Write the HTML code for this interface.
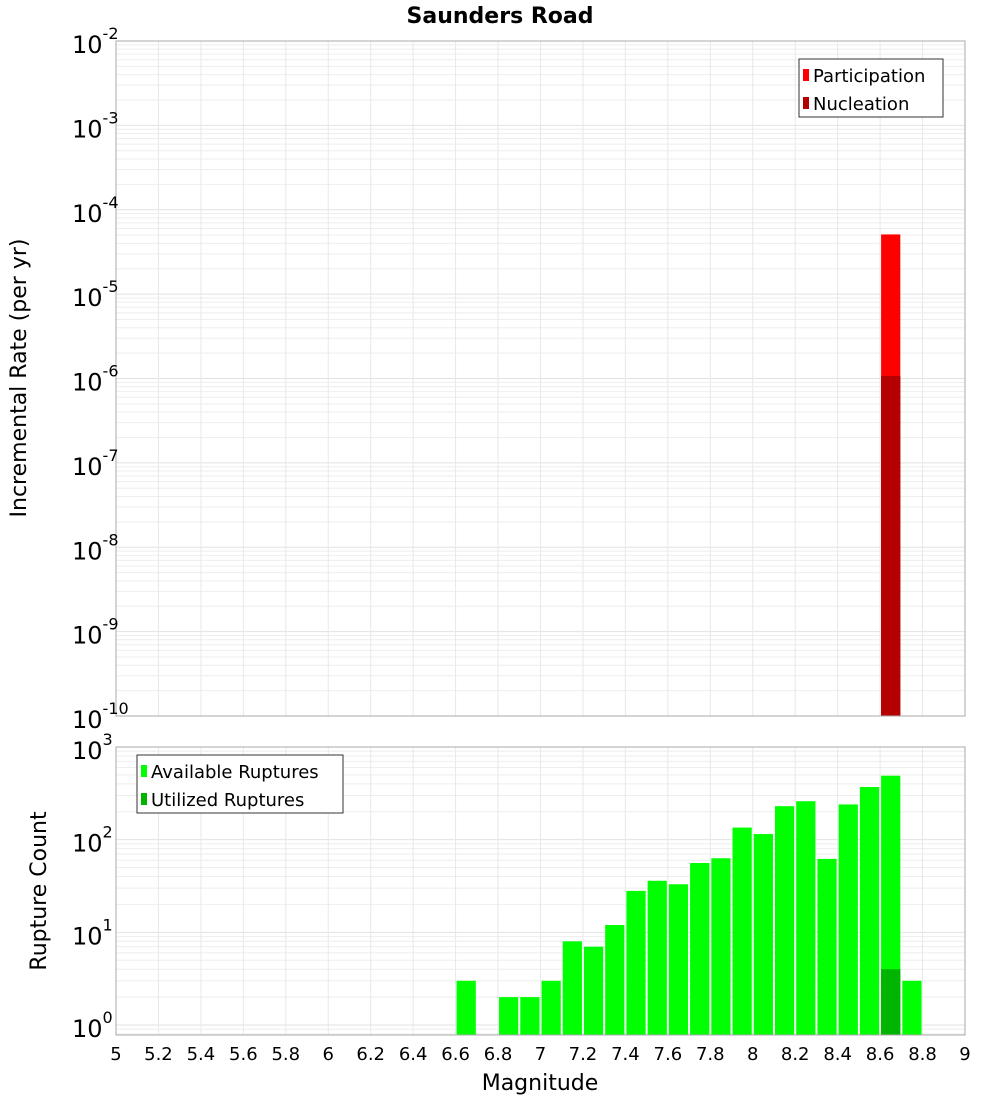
<!DOCTYPE html>
<html><head><meta charset="utf-8"><style>
body{margin:0;background:#fff;font-family:"Liberation Sans","DejaVu Sans",sans-serif}
svg text{font-family:"DejaVu Sans","Liberation Sans",sans-serif}
</style></head><body>
<svg id="c" width="1000" height="1100" xmlns="http://www.w3.org/2000/svg">
<text x="500" y="23" text-anchor="middle" font-size="22" font-weight="bold">Saunders Road</text>
<g id="top"></g><g id="bot"></g>
</svg>
<script>
const topCats=[8.65];
const participation=[5.1e-5];
const nucleation=[1.07e-6];
const botCats=[6.65,6.85,6.95,7.05,7.15,7.25,7.35,7.45,7.55,7.65,7.75,7.85,7.95,8.05,8.15,8.25,8.35,8.45,8.55,8.65,8.75];
const available=[3,2,2,3,8,7,12,28,36,33,56,63,135,115,230,260,62,240,370,490,3];
const utilizedCats=[8.65];
const utilized=[4];
const xTicks=[5,5.2,5.4,5.6,5.8,6,6.2,6.4,6.6,6.8,7,7.2,7.4,7.6,7.8,8,8.2,8.4,8.6,8.8,9];
const topExp=[-2,-3,-4,-5,-6,-7,-8,-9,-10];
const botExp=[3,2,1,0];
const NS="http://www.w3.org/2000/svg";
const X0=116,X1=965;
const x=v=>X0+(v-5)/4*(X1-X0);
function mk(p,t,a){const e=document.createElementNS(NS,t);for(const k in a)e.setAttribute(k,a[k]);p.appendChild(e);return e;}
function panel(g,top,bot,lmin,lmax,name){
 const y=v=>bot-(Math.log10(v)-lmin)/(lmax-lmin)*(bot-top);
 const grid=mk(g,'g',{});
 
 
 for(let d=Math.floor(lmin);d<lmax;d++)for(let m=1;m<10;m++){const v=Math.pow(10,d)*m;const yy=y(v);if(yy<top||yy>bot)continue;
  mk(grid,'line',{x1:X0,x2:X1,y1:yy,y2:yy,stroke:m==1?'#e2e2e2':'#eeeeee','stroke-width':1});}
 xTicks.forEach(t=>{mk(grid,'line',{x1:x(t),x2:x(t),y1:top,y2:bot,stroke:'#e8e8e8','stroke-width':1});});
 return y;
}
const T=document.getElementById('top'),B=document.getElementById('bot');
const yT=panel(T,41,716,-10,-2,'top');
const yB=panel(B,747,1035,-0.108,3,'bottom');
function bar(g,c,v,y,bot,col,name){const r=mk(g,'rect',{x:x(c-0.05)+1,y:y(v),width:x(c+0.05)-x(c-0.05)-2,height:bot-y(v),fill:col});
 }
topCats.forEach((c,i)=>{bar(T,c,participation[i],yT,716,'#ff0000','participation-bar-'+c);bar(T,c,nucleation[i],yT,716,'#b40000','nucleation-bar-'+c);});
botCats.forEach((c,i)=>bar(B,c,available[i],yB,1035,'#00ff00','available-bar-'+c));
utilizedCats.forEach((c,i)=>bar(B,c,utilized[i],yB,1035,'#00b400','utilized-bar-'+c));
[[T,41,716],[B,747,1035]].forEach(([g,t,b])=>{const r=mk(g,'rect',{x:X0,y:t,width:X1-X0,height:b-t,fill:'none',stroke:'#aaaaaa'});
 });
function ylab(g,e,yy){const t=mk(g,'text',{x:72,y:yy+12,'font-size':24});t.textContent='10';
 const s=mk(t,'tspan',{dy:-14,'font-size':16});s.textContent=String(e);
 }
topExp.forEach(e=>ylab(T,e,yT(Math.pow(10,e))));
botExp.forEach(e=>ylab(B,e,yB(Math.pow(10,e))));
xTicks.forEach(t=>{const e=mk(B,'text',{x:x(t),y:1060,'font-size':18,'text-anchor':'middle'});e.textContent=String(t);
 });
function txt(g,s,a,name){const e=mk(g,'text',a);e.textContent=s;}
txt(B,'Magnitude',{x:540,y:1090,'font-size':22,'text-anchor':'middle'},'x-axis-title');
txt(T,'Incremental Rate (per yr)',{x:0,y:0,'font-size':22,'text-anchor':'middle',transform:'translate(26,378) rotate(-90)'},'top-y-axis-title');
txt(B,'Rupture Count',{x:0,y:0,'font-size':22,'text-anchor':'middle',transform:'translate(46,891) rotate(-90)'},'bottom-y-axis-title');
function legend(g,bx,by,w,items,name){const r=mk(g,'rect',{x:bx,y:by,width:w,height:58,fill:'#fff',stroke:'#333'});
 
 items.forEach(([lab,col],i)=>{const s=mk(g,'rect',{x:bx+4,y:by+10+i*28,width:6,height:12,fill:col});
 
 txt(g,lab,{x:bx+14,y:by+23+i*28,'font-size':18},'legend-entry');});}
legend(T,799,59,144,[['Participation','#ff0000'],['Nucleation','#b40000']],'top-legend');
legend(B,137,755,206,[['Available Ruptures','#00ff00'],['Utilized Ruptures','#00b400']],'bottom-legend');
</script>
</body></html>
